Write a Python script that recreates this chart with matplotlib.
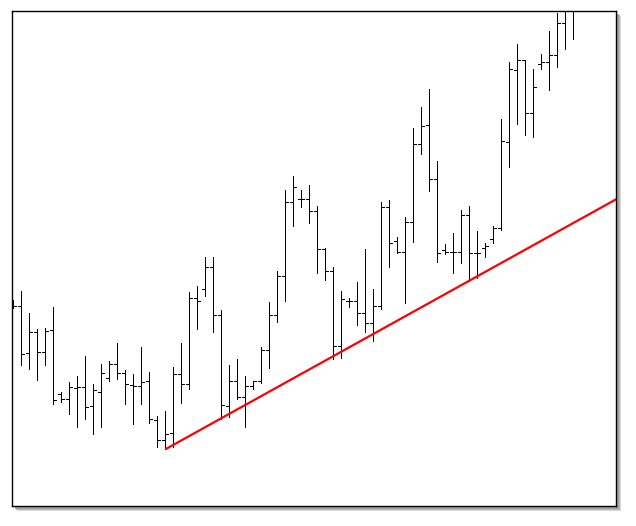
import matplotlib
matplotlib.use("Agg")
import matplotlib.pyplot as plt
from matplotlib.patches import Rectangle
import numpy as np

# OHLC data (arbitrary price units), one bar per period
opens = [203, 200, 152.7, 173.7, 154, 175.7, 111.7, 107, 118, 118.7,
         100, 113.7, 128, 141.7, 132.7, 120.7, 119.7, 124.7, 86.3, 66,
         72.7, 132, 121.7, 208, 217, 238.7, 190.7, 99.7, 124.7, 109.3,
         119.7, 124.7, 155.7, 190.7, 230.3, 303.7, 307.3, 307.3, 294.7, 256.7,
         235.3, 159.7, 204.7, 204.7, 192.7, 182.7, 200.3, 298.7, 264.7, 254.3,
         283.7, 362.3, 381, 326.7, 256.3, 254.3, 254.3, 290.7, 252.7, 257.7,
         266.7, 278.5, 363.7, 435.7, 445.7, 392.7, 441.7, 443.7, 451, 482.7,
         500]
highs = [206, 215, 193, 177, 178, 199, 113.7, 123.7, 129.7, 150,
         121.7, 142, 145, 163, 136, 132, 159, 134, 90.3, 95.3,
         139, 163, 213.7, 219.7, 248.7, 248.7, 195.7, 141, 146.7, 129.7,
         124.7, 159, 204, 235, 316, 330, 316, 321, 300, 257.7,
         238.7, 215.3, 207.7, 224.3, 257.3, 217, 304.3, 306, 269.3, 289.3,
         378.3, 399, 417, 345.3, 261.7, 272.7, 295.7, 299.7, 274.7, 263.3,
         280.5, 387, 444, 461.7, 446.3, 436.7, 451.7, 474.7, 492.7, 505,
         510]
lows = [198, 141, 137.3, 126.3, 141.3, 102.3, 103.7, 92.3, 79.3, 87.3,
        72.3, 79.3, 125.3, 126.7, 102.3, 82.3, 102.3, 83.3, 59.3, 56.7,
        59.3, 102.7, 117.3, 177.3, 210.3, 174.3, 86.7, 89.3, 107.3, 79.3,
        116.7, 122.7, 138.3, 184.3, 205.3, 280.3, 299.3, 283.3, 233.3, 226.3,
        146.7, 148, 198.7, 181.3, 174.3, 165.3, 197.3, 239.3, 253.3, 203.3,
        264.3, 352.3, 315.3, 244.3, 251.7, 233.3, 243.3, 225.3, 228.3, 249.3,
        263.5, 276.5, 339.3, 382.3, 371.3, 369.3, 437.3, 416.3, 439.3, 457.3,
        467.3]
closes = [200, 152, 173.7, 154, 174.7, 105.7, 107, 118.7, 118.7, 99.3,
          116, 132.7, 141.7, 132.7, 121.7, 119.7, 123.7, 87.3, 66, 72.5,
          132, 121.7, 208, 204.7, 238.7, 190.7, 100.7, 124.7, 109.3, 119.7,
          124.7, 155.7, 190.7, 230.3, 303.7, 319, 307.3, 294.7, 256.7, 235.3,
          159.7, 206.7, 204.7, 192.7, 182.7, 200.3, 298.7, 262.7, 254.3, 283.7,
          362.3, 379.7, 326.7, 252.7, 254.3, 254.3, 290.7, 252.7, 252.7, 260,
          278.5, 364.7, 436.7, 445.7, 392.7, 418.7, 443.7, 451, 482.7, 500,
          505]

# trendline anchor points (bar index, price)
trend_x = [19, 57]
trend_y = [56.7, 225.3]

n = len(opens)
idx = np.arange(n)

W, H = 636, 526
fig = plt.figure(figsize=(W / 100, H / 100), dpi=100)
fig.patch.set_facecolor("white")

# axes frame in pixels
left_px, right_px, top_px, bottom_px = 12.3, 616.0, 10.7, 506.0
ax_rect = [left_px / W, (H - bottom_px) / H, (right_px - left_px) / W, (bottom_px - top_px) / H]

# drop shadow
for off, col in [(5, "#d8d8d8"), (4, "#b8b8b8"), (3, "#a0a0a0")]:
    fig.patches.append(Rectangle(((left_px + off) / W, (H - bottom_px - off) / H),
                                 (right_px - left_px) / W, (bottom_px - top_px) / H,
                                 transform=fig.transFigure, facecolor=col,
                                 edgecolor="none", zorder=0))

ax = fig.add_axes(ax_rect)
ax.set_facecolor("white")
ax.set_zorder(2)

tick = 0.38
lw = 0.72
ax.vlines(idx, lows, highs, colors="black", linewidth=lw, antialiased=False)
ax.hlines(opens, idx - tick, idx, colors="black", linewidth=lw, antialiased=False)
ax.hlines(closes, idx, idx + tick, colors="black", linewidth=lw, antialiased=False)

xmin = (left_px - 13.3) / 8.0
xmax = (right_px - 13.3) / 8.0
slope = (trend_y[1] - trend_y[0]) / (trend_x[1] - trend_x[0])
tx = np.array([trend_x[0], xmax + 1])
ty = trend_y[0] + slope * (tx - trend_x[0])
ax.plot(tx, ty, color="#ff0000", linewidth=1.6, solid_capstyle="butt")

ax.set_xlim(xmin, xmax)
ax.set_ylim(0, bottom_px - top_px)
ax.set_xticks([])
ax.set_yticks([])
for s in ax.spines.values():
    s.set_color("black")
    s.set_linewidth(1.0)

fig.savefig("out.png", dpi=100, facecolor="white")
